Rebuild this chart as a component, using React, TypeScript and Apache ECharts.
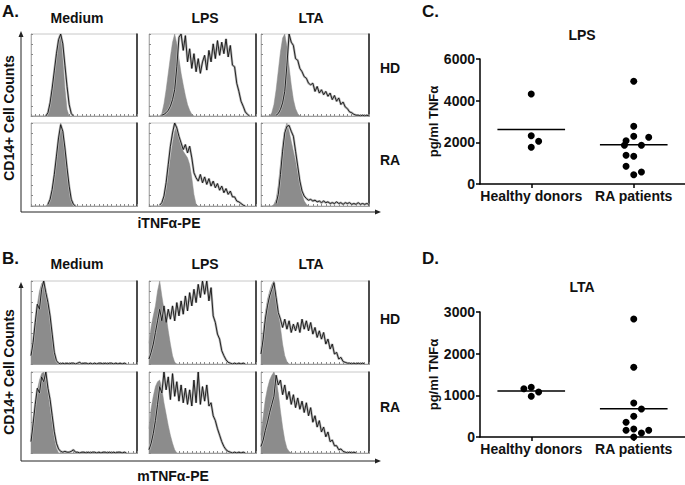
import React, { useEffect, useRef } from "react";
import * as echarts from "echarts";

// ---------- Histogram data (channel step = 2, heights as % of panel max) ----------
const CH_STEP = 2;

// A. iTNFa-PE  — HD row
const aHdMedGray = [0, 0, 0, 0, 0, 0, 0, 0, 6, 20, 38, 58, 78, 95, 100, 70, 34, 8, 0];
const aHdMedLine = [null, null, null, null, null, null, null, 0, 4, 16, 34, 55, 76, 93, 100, 88, 62, 36, 14, 3, 0];
const aHdLpsGray = [0, 0, 0, 0, 0, 0, 3, 15, 32, 52, 72, 90, 100, 88, 70, 52, 38, 25, 14, 7, 2, 0];
const aHdLpsLine = [null, null, null, null, null, null, 1, 2, 4, 7, 12, 20, 32, 60, 96, 100, 80, 98, 66, 82, 58, 76, 54, 70, 52, 66, 74, 56, 80, 66, 88, 70, 92, 74, 90, 76, 94, 72, 86, 62, 60, 40, 30, 18, 12, 5, 2, 0];
const aHdLtaGray = [0, 0, 0, 0, 0, 4, 14, 32, 55, 78, 95, 100, 85, 60, 38, 20, 9, 3, 0];
const aHdLtaLine = [null, null, null, null, null, null, null, 1, 3, 8, 16, 30, 62, 100, 90, 86, 70, 68, 58, 54, 48, 46, 40, 38, 40, 30, 36, 28, 32, 26, 30, 24, 28, 20, 25, 18, 22, 14, 17, 11, 9, 5, 4, 2, 1, 1, 0, 1, 0, 1, 0];
// A. — RA row
const aRaMedGray = [0, 0, 0, 0, 0, 0, 0, 0, 3, 10, 22, 40, 62, 84, 100, 88, 66, 44, 25, 10, 3, 0];
const aRaMedLine = [null, null, null, null, null, null, null, null, 2, 8, 20, 38, 60, 82, 98, 90, 70, 46, 24, 8, 2, 0];
const aRaLpsGray = [0, 0, 0, 0, 0, 0, 2, 8, 20, 38, 58, 76, 90, 96, 86, 74, 66, 62, 58, 50, 34, 14, 2, 0];
const aRaLpsLine = [null, null, null, null, null, 1, 4, 12, 28, 50, 72, 88, 100, 94, 84, 76, 68, 74, 64, 72, 58, 40, 34, 30, 38, 28, 35, 26, 33, 24, 30, 22, 27, 19, 24, 16, 21, 14, 18, 11, 11, 6, 5, 3, 1, 0];
const aRaLtaGray = [0, 0, 0, 0, 0, 0, 2, 8, 25, 50, 75, 92, 100, 90, 78, 66, 54, 40, 26, 14, 6, 2, 0];
const aRaLtaLine = [null, null, null, null, null, null, null, 3, 14, 38, 66, 88, 96, 97, 90, 84, 66, 48, 30, 18, 12, 9, 7, 8, 6, 7, 5, 6, 4, 6, 4, 5, 3, 4, 3, 5, 3, 4, 2, 4, 3, 4, 2, 3, 2, 4, 2, 3, 2, 3, 2];

// B. mTNFa-PE — HD row
const bHdMedGray = [12, 30, 52, 72, 88, 97, 100, 90, 78, 60, 38, 16, 4, 0];
const bHdMedLine = [10, 26, 50, 72, 66, 90, 100, 86, 74, 58, 36, 14, 4, 1, 0, 1, 0, 1, 0, 1, 1, 0, 1, 2, 0, 1, 1, 0, 1, 0, 1, 0, 1, 1, 0, 1, 0, 1, 1, 0, 1, 0, 1, 0, 1, 0];
const bHdLpsGray = [25, 45, 58, 70, 88, 100, 82, 66, 58, 40, 24, 10, 2, 0];
const bHdLpsLine = [6, 14, 24, 38, 52, 66, 52, 70, 50, 66, 54, 70, 52, 74, 58, 76, 60, 82, 64, 86, 70, 90, 74, 96, 80, 100, 84, 100, 76, 92, 58, 50, 36, 30, 16, 10, 5, 2, 1, 0, 1, 0, 1, 0, 1, 0];
const bHdLtaGray = [18, 40, 62, 78, 88, 96, 100, 86, 66, 44, 24, 10, 3, 0];
const bHdLtaLine = [12, 30, 54, 70, 82, 90, 98, 80, 62, 54, 44, 54, 42, 52, 38, 48, 40, 50, 38, 54, 42, 52, 40, 50, 36, 44, 32, 40, 30, 38, 24, 30, 18, 24, 12, 14, 6, 8, 3, 2, 1, 1, 0, 1, 0, 1, 0, 1, 0];
// B. — RA row
const bRaMedGray = [20, 42, 62, 78, 90, 98, 100, 90, 74, 56, 36, 18, 6, 0];
const bRaMedLine = [14, 36, 60, 80, 74, 94, 88, 100, 80, 66, 46, 26, 12, 5, 2, 1, 2, 1, 1, 2, 4, 1, 1, 0, 1, 1, 0, 1, 0, 1, 1, 0, 1, 0, 1, 1, 0, 1, 0, 1, 0, 1, 1, 0, 1, 0];
const bRaLpsGray = [30, 55, 70, 82, 88, 90, 80, 62, 48, 34, 22, 12, 4, 0];
const bRaLpsLine = [4, 12, 24, 40, 60, 82, 74, 100, 78, 94, 66, 98, 70, 88, 64, 84, 62, 80, 60, 78, 58, 90, 62, 100, 60, 82, 64, 84, 58, 62, 46, 40, 30, 22, 14, 8, 4, 2, 1, 0, 1, 0, 1, 0, 1, 0];
const bRaLtaGray = [22, 45, 66, 80, 90, 96, 100, 92, 74, 52, 32, 16, 6, 2, 0];
const bRaLtaLine = [8, 16, 28, 38, 50, 60, 70, 96, 84, 90, 72, 84, 66, 76, 60, 72, 56, 68, 54, 64, 50, 62, 46, 56, 38, 46, 32, 40, 26, 32, 20, 26, 14, 16, 9, 9, 4, 5, 2, 1, 0, 1, 0, 1, 0];

// ---------- Scatter data (pg/ml TNFα) ----------
const groups = ["Healthy donors", "RA patients"];
const lpsHdY = [4320, 2320, 2048, 1760];
const lpsHdX = [0.5, 0.5, 0.572, 0.5];
const lpsRaY = [4928, 2768, 2288, 2080, 2240, 1856, 1856, 1376, 1328, 848, 448, 576];
const lpsRaX = [1.5, 1.5, 1.5, 1.425, 1.646, 1.409, 1.575, 1.425, 1.5, 1.425, 1.5, 1.575];
const ltaHdY = [1160, 1192, 1080, 976];
const ltaHdX = [0.428, 0.5, 0.572, 0.5];
const ltaRaY = [2832, 1672, 816, 672, 496, 352, 160, 192, 160, 96, 0];
const ltaRaX = [1.5, 1.5, 1.5, 1.575, 1.5, 1.425, 1.425, 1.5, 1.646, 1.575, 1.5];
const lpsTicks = [0, 6000, 2000];
const ltaTicks = [0, 3000, 1000];

const FONT = '"Liberation Sans", Arial, Helvetica, sans-serif';
const INK = "#111";

const toPairs = (vals: (number | null)[]) =>
  vals.map((v, i) => [i * CH_STEP, v == null ? "-" : v]);
const mean = (a: number[]) => a.reduce((s, v) => s + v, 0) / a.length;

function buildOption() {
  const colLeft = [31, 149, 261];
  const colWidth = [106, 107, 108];
  const rows = [
    { top: 34, height: 82 },
    { top: 123, height: 83 },
    { top: 281, height: 83 },
    { top: 372, height: 81 },
  ];
  const panels = [
    [aHdMedGray, aHdMedLine, aHdLpsGray, aHdLpsLine, aHdLtaGray, aHdLtaLine],
    [aRaMedGray, aRaMedLine, aRaLpsGray, aRaLpsLine, aRaLtaGray, aRaLtaLine],
    [bHdMedGray, bHdMedLine, bHdLpsGray, bHdLpsLine, bHdLtaGray, bHdLtaLine],
    [bRaMedGray, bRaMedLine, bRaLpsGray, bRaLpsLine, bRaLtaGray, bRaLtaLine],
  ];

  const grids: any[] = [];
  const xAxes: any[] = [];
  const yAxes: any[] = [];
  const series: any[] = [];

  rows.forEach((r, ri) => {
    for (let c = 0; c < 3; c++) {
      const gi = grids.length;
      grids.push({
        left: colLeft[c], top: r.top, width: colWidth[c], height: r.height,
        show: true, borderColor: "#c8c8c8", borderWidth: 1, backgroundColor: "transparent",
      });
      const xi = xAxes.length;
      xAxes.push({
        type: "value", gridIndex: gi, min: 0, max: 100, interval: 4,
        axisLine: { show: true, lineStyle: { color: "#a0a0a0", width: 1 } },
        axisTick: { show: true, inside: true, length: 2, lineStyle: { color: "#888" } },
        axisLabel: { show: false }, splitLine: { show: false },
      });
      const yi = yAxes.length;
      yAxes.push({
        type: "value", gridIndex: gi, min: 0, max: 100, interval: 12.5,
        axisLine: { show: true, lineStyle: { color: "#b0b0b0", width: 1 } },
        axisTick: { show: true, inside: true, length: 2, lineStyle: { color: "#888" } },
        axisLabel: { show: false }, splitLine: { show: false },
      });
      yAxes.push({
        type: "value", gridIndex: gi, position: "right", min: 0, max: 100,
        axisLine: { show: true, lineStyle: { color: "#1a1a1a", width: 1.5 } },
        axisTick: { show: false }, axisLabel: { show: false }, splitLine: { show: false },
      });
      const gray = panels[ri][c * 2];
      const line = panels[ri][c * 2 + 1];
      series.push({
        type: "line", xAxisIndex: xi, yAxisIndex: yi, data: toPairs(gray),
        symbol: "none", silent: true, z: 2,
        lineStyle: { width: 0.5, color: "#8c8c8c" },
        areaStyle: { color: "#8c8c8c", opacity: 1 },
      });
      series.push({
        type: "line", xAxisIndex: xi, yAxisIndex: yi, data: toPairs(line),
        symbol: "none", silent: true, z: 3,
        lineStyle: { width: 2.4, color: "#b8b8b8" },
      });
      series.push({
        type: "line", xAxisIndex: xi, yAxisIndex: yi, data: toPairs(line),
        symbol: "none", silent: true, z: 4,
        lineStyle: { width: 0.9, color: "#111" },
      });
    }
  });

  const scatterPanels = [
    { top: 59, ticks: lpsTicks, hdX: lpsHdX, hdY: lpsHdY, raX: lpsRaX, raY: lpsRaY },
    { top: 312, ticks: ltaTicks, hdX: ltaHdX, hdY: ltaHdY, raX: ltaRaX, raY: ltaRaY },
  ];
  const MEAN_HALF = 0.33;
  scatterPanels.forEach((p) => {
    const gi = grids.length;
    grids.push({ left: 480, top: p.top, width: 205, height: 125 });
    xAxes.push({
      type: "category", gridIndex: gi, data: groups, boundaryGap: true, position: "bottom",
      axisLine: { show: true, lineStyle: { color: "#000", width: 1.5 } },
      axisTick: { show: true, alignWithLabel: true, length: 4, lineStyle: { color: "#000", width: 1.5 } },
      axisLabel: {
        fontSize: 14, fontWeight: "bold", color: INK, margin: 5, fontFamily: FONT,
        interval: 0, hideOverlap: false,
      },
      splitLine: { show: false },
    });
    const xv = xAxes.length;
    xAxes.push({ type: "value", gridIndex: gi, min: 0, max: 2, show: false, position: "top" });
    const yi = yAxes.length;
    yAxes.push({
      type: "value", gridIndex: gi, min: p.ticks[0], max: p.ticks[1], interval: p.ticks[2],
      axisLine: { show: true, lineStyle: { color: "#000", width: 1.5 } },
      axisTick: { show: true, length: 4, lineStyle: { color: "#000", width: 1.5 } },
      axisLabel: {
        fontSize: 14, fontWeight: "bold", color: INK, margin: 5, fontFamily: FONT,
        formatter: (v: number) => String(v),
      },
      splitLine: { show: false },
      name: "pg/ml TNFα", nameLocation: "middle", nameGap: 37, nameRotate: 90,
      nameTextStyle: { fontSize: 13, fontWeight: "bold", color: INK, fontFamily: FONT },
    });
    series.push({
      type: "scatter", xAxisIndex: xv, yAxisIndex: yi, symbolSize: 7,
      itemStyle: { color: "#000", opacity: 1 },
      data: p.hdX.map((x, i) => [x, p.hdY[i]]),
    });
    series.push({
      type: "scatter", xAxisIndex: xv, yAxisIndex: yi, symbolSize: 7,
      itemStyle: { color: "#000", opacity: 1 },
      data: p.raX.map((x, i) => [x, p.raY[i]]),
    });
    const mHd = mean(p.hdY);
    const mRa = mean(p.raY);
    series.push({
      type: "line", xAxisIndex: xv, yAxisIndex: yi, symbol: "none",
      lineStyle: { color: "#000", width: 1.5 },
      data: [[0.5 - MEAN_HALF, mHd], [0.5 + MEAN_HALF, mHd]],
    });
    series.push({
      type: "line", xAxisIndex: xv, yAxisIndex: yi, symbol: "none",
      lineStyle: { color: "#000", width: 1.5 },
      data: [[1.5 - MEAN_HALF, mRa], [1.5 + MEAN_HALF, mRa]],
    });
  });

  const txt = (text: string, x: number, y: number, size: number, align = "center", rot = 0) => ({
    type: "text", x, y, rotation: rot, silent: true,
    style: {
      text, x: 0, y: 0, fill: INK, font: `bold ${size}px ${FONT}`,
      textAlign: align, textVerticalAlign: "middle",
    },
  });
  const line = (x1: number, y1: number, x2: number, y2: number) => ({
    type: "line", silent: true,
    shape: { x1, y1, x2, y2 }, style: { stroke: "#222", lineWidth: 1 },
  });
  const tri = (pts: number[][]) => ({
    type: "polygon", silent: true, shape: { points: pts }, style: { fill: "#222" },
  });

  const elements: any[] = [
    txt("A.", 2, 11, 17, "left"),
    txt("B.", 2, 258, 17, "left"),
    txt("C.", 422, 11, 17, "left"),
    txt("D.", 422, 258, 17, "left"),
    txt("Medium", 77, 18, 14),
    txt("LPS", 205, 18, 14),
    txt("LTA", 311, 18, 14),
    txt("Medium", 77, 264, 14),
    txt("LPS", 205, 264, 14),
    txt("LTA", 311, 264, 14),
    txt("HD", 390, 68, 14),
    txt("RA", 390, 160, 14),
    txt("HD", 390, 319, 14),
    txt("RA", 390, 407, 14),
    txt("CD14+ Cell Counts", 9, 118, 14, "center", Math.PI / 2),
    txt("CD14+ Cell Counts", 9, 372, 14, "center", Math.PI / 2),
    txt("iTNFα-PE", 169, 223, 14),
    txt("mTNFα-PE", 173, 476, 14),
    txt("LPS", 582, 35, 14),
    txt("LTA", 582, 287, 14),
    line(21, 212, 21, 36), tri([[21, 31], [18.5, 37], [23.5, 37]]),
    line(21, 212, 376, 212), tri([[381, 212], [375, 209.5], [375, 214.5]]),
    line(21, 461, 21, 287), tri([[21, 282], [18.5, 288], [23.5, 288]]),
    line(21, 461, 376, 461), tri([[381, 461], [375, 458.5], [375, 463.5]]),
  ];

  return {
    animation: false,
    backgroundColor: "#fff",
    textStyle: { fontFamily: FONT },
    grid: grids,
    xAxis: xAxes,
    yAxis: yAxes,
    series,
    graphic: { elements },
  };
}

export default function App() {
  const ref = useRef<HTMLDivElement>(null);
  useEffect(() => {
    const chart = echarts.init(ref.current!, null, { renderer: "svg" });
    chart.setOption(buildOption() as any);
    return () => chart.dispose();
  }, []);
  return (
    <div
      ref={ref}
      style={{ position: "fixed", left: 0, top: 0, width: 685, height: 485, background: "#fff" }}
    />
  );
}
